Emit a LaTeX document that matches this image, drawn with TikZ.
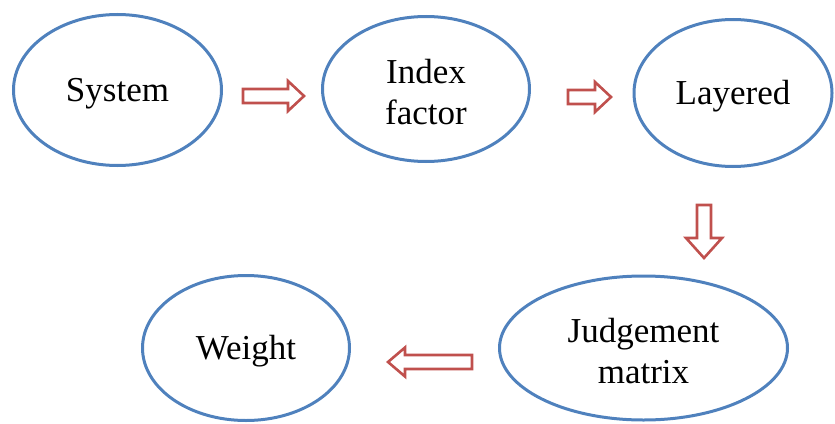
\documentclass[tikz,border=0pt]{standalone}
\usepackage{fontspec}
\setmainfont{Liberation Serif}
\usetikzlibrary{shapes.geometric}
\definecolor{ellblue}{HTML}{4F81BD}
\definecolor{arrred}{HTML}{C0504D}
\tikzset{
  oval/.style={ellipse, draw=ellblue, line width=3pt, inner sep=0pt},
  lbl/.style={align=center, inner sep=0pt, font=\fontsize{35}{41}\selectfont},
  blockarrow/.style={draw=arrred, line width=2.6pt, fill=white, line join=miter},
  pics/barr/.style n args={3}{code={
    \draw[blockarrow] (0,-7) -- (#1-#3,-7) -- (#1-#3,-#2) -- (#1,0) -- (#1-#3,#2) -- (#1-#3,7) -- (0,7) -- cycle;
  }}
}
\begin{document}
\begin{tikzpicture}[x=1pt,y=-1pt]
\useasboundingbox (0,0) rectangle (835,423);
\node[oval, minimum width=208pt, minimum height=151pt] (sys) at (117.5,90) {};
\node[oval, minimum width=207pt, minimum height=145pt] (idx) at (426,89) {};
\node[oval, minimum width=198pt, minimum height=147pt] (lay) at (733,93) {};
\node[oval, minimum width=288pt, minimum height=144pt] (jud) at (643.5,348) {};
\node[oval, minimum width=207pt, minimum height=145pt] (wei) at (246,348) {};
\node[lbl] (tsys) at ([yshift=-4pt]sys.center) {System};
\node[lbl] (tidx) at ([yshift=-3pt]idx.center) {Index\\factor};
\node[lbl] (tlay) at ([yshift=-3pt]lay.center) {Layered};
\node[lbl] (tjud) at ([yshift=-3pt]jud.center) {Judgement\\matrix};
\node[lbl] (twei) at ([yshift=-3pt]wei.center) {Weight};
\coordinate (a1) at (243,96);
\coordinate (a2) at (568,97);
\coordinate (a3) at (704,205);
\coordinate (a4) at (472,362);
\pic at (a1) {barr={61}{15}{16}};
\pic at (a2) {barr={43}{15}{16}};
\pic[rotate=-90] at (a3) {barr={53}{18}{20}};
\pic[rotate=180] at (a4) {barr={84}{14.5}{17}};
\end{tikzpicture}
\end{document}
